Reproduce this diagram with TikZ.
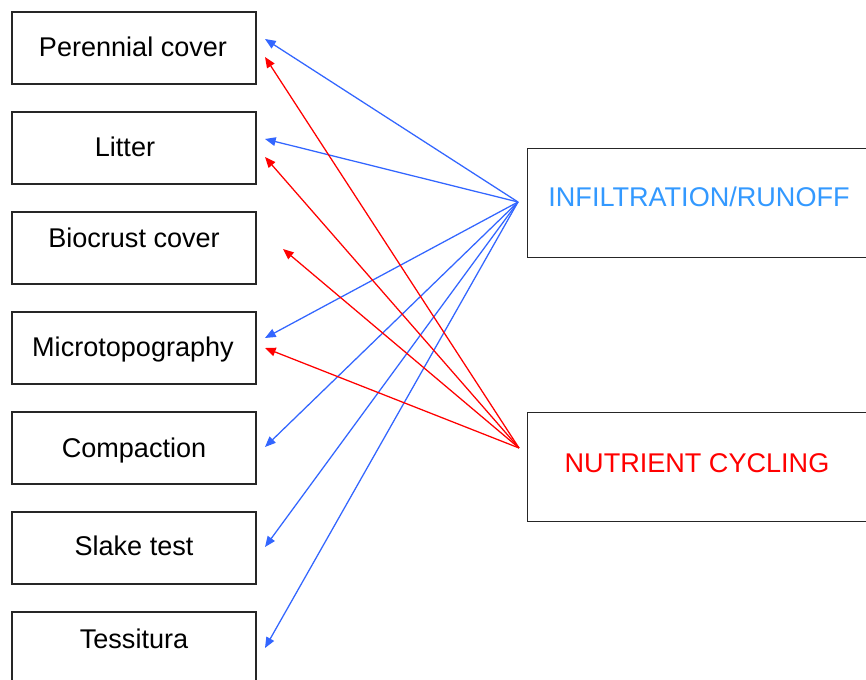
\documentclass[tikz,border=0pt]{standalone}
\usepackage{fontspec}
\setmainfont{Liberation Sans}
\usetikzlibrary{arrows.meta}
\definecolor{arrblue}{HTML}{3366FF}
\definecolor{txtblue}{HTML}{3399FF}
\definecolor{arrred}{HTML}{FF0000}
\begin{document}
\begin{tikzpicture}[x=0.75pt,y=-0.75pt,
  leftbox/.style={draw=black!85, line width=0.8pt, rectangle, inner sep=0pt,
    minimum width=183pt, minimum height=54pt},
  rightbox/.style={draw=black!85, line width=0.8pt, rectangle, inner sep=0pt,
    minimum width=280pt, minimum height=81.75pt},
  lbl/.style={font=\fontsize{20.3}{24}\selectfont, inner sep=0pt, anchor=base},
  bluearrow/.style={draw=arrblue, line width=0.95pt, -{Triangle[length=8pt,width=6.5pt]}},
  redarrow/.style={draw=arrred, line width=0.95pt, -{Triangle[length=8pt,width=6.5pt]}}]
\useasboundingbox (0,0) rectangle (866,680);
\clip (0,0) rectangle (866,680);
\fill[white] (0,0) rectangle (866,680);

% left boxes
\node[leftbox] (b1) at (134,48) {};
\node[leftbox] (b2) at (134,148) {};
\node[leftbox] (b3) at (134,248) {};
\node[leftbox] (b4) at (134,348) {};
\node[leftbox] (b5) at (134,448) {};
\node[leftbox] (b6) at (134,548) {};
\node[leftbox] (b7) at (134,648) {};
\node[lbl] (t1) at (133,57) {Perennial cover};
\node[lbl] (t2) at (125,157) {Litter};
\node[lbl] (t3) at (134,248) {Biocrust cover};
\node[lbl] (t4) at (133,357) {Microtopography};
\node[lbl] (t5) at (134,457) {Compaction};
\node[lbl] (t6) at (134,555) {Slake test};
\node[lbl] (t7) at (134,648) {Tessitura};

% right boxes
\node[rightbox, anchor=north west] (inf) at (527,148) {};
\node[rightbox, anchor=north west] (nut) at (527,412) {};
\node[lbl, text=txtblue] (tinf) at (699,207) {INFILTRATION/RUNOFF};
\node[lbl, text=arrred] (tnut) at (697,472) {NUTRIENT CYCLING};

% sources
\coordinate (sb) at (518,202);
\coordinate (sr) at (519,448);

% tips
\coordinate (pb1) at (265,39);
\coordinate (pb2) at (265,139);
\coordinate (pb4) at (265,338);
\coordinate (pb5) at (265,447);
\coordinate (pb6) at (265,547);
\coordinate (pb7) at (265,648);
\coordinate (pr1) at (265,57);
\coordinate (pr2) at (265,157);
\coordinate (pr3) at (283,249);
\coordinate (pr4) at (265,348);

\draw[bluearrow] (sb) -- (pb1);
\draw[bluearrow] (sb) -- (pb2);
\draw[bluearrow] (sb) -- (pb4);
\draw[bluearrow] (sb) -- (pb5);
\draw[bluearrow] (sb) -- (pb6);
\draw[bluearrow] (sb) -- (pb7);
\draw[redarrow] (sr) -- (pr1);
\draw[redarrow] (sr) -- (pr2);
\draw[redarrow] (sr) -- (pr3);
\draw[redarrow] (sr) -- (pr4);
\end{tikzpicture}
\end{document}
